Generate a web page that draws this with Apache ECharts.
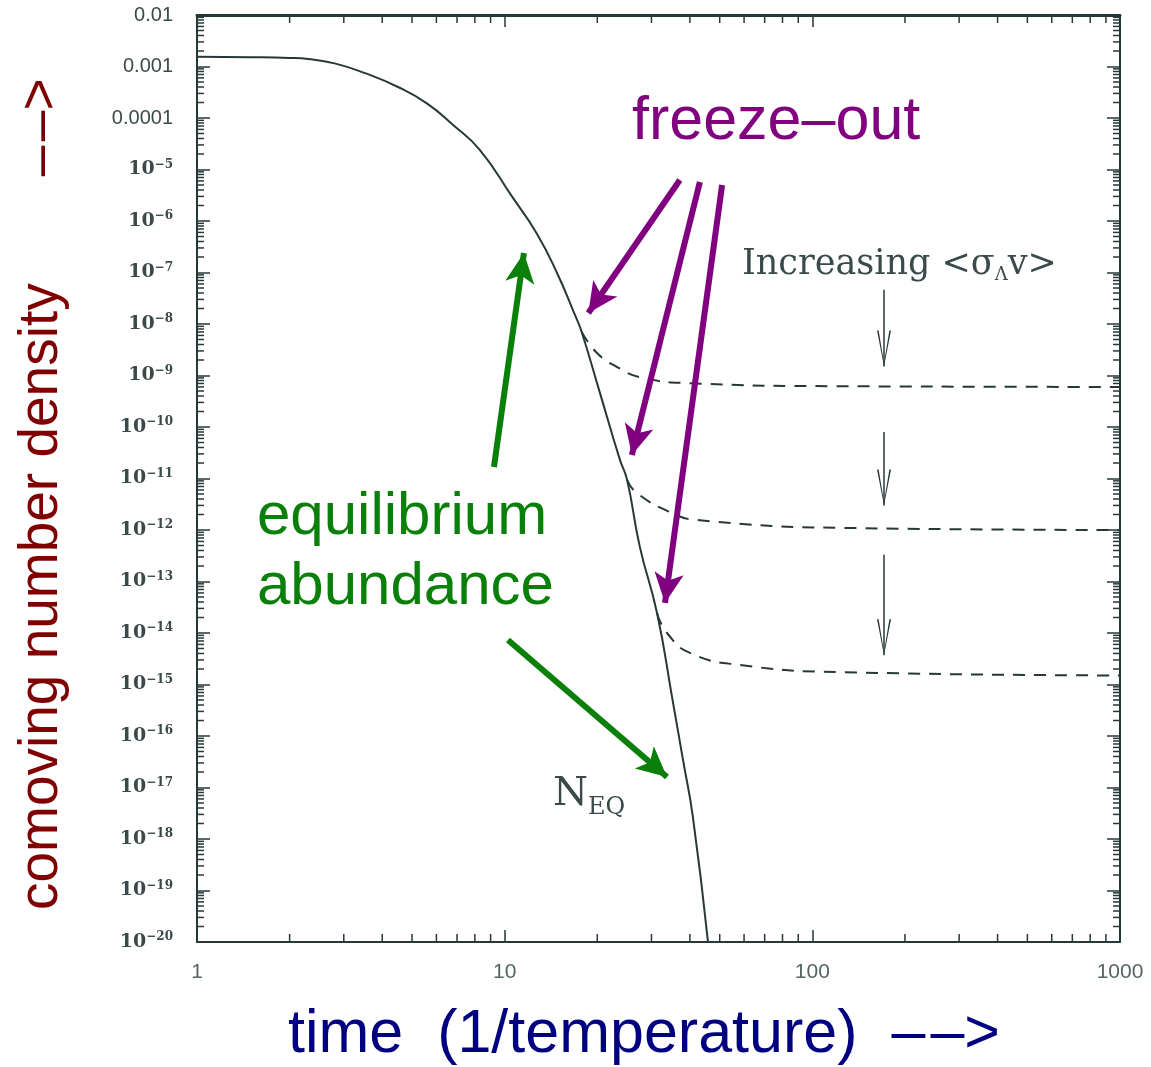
<!DOCTYPE html>
<html>
<head>
<meta charset="utf-8">
<script src="https://cdn.jsdelivr.net/npm/echarts@6/dist/echarts.min.js"></script>
<style>
  html, body { margin: 0; padding: 0; background: #fff; }
  #main { width: 1151px; height: 1067px; }
</style>
</head>
<body>
<div id="main"></div>
<script>
// equilibrium curve N_EQ
var eqCurve = [
  [1, 1.55e-3], [1.5, 1.52e-3], [2.0, 1.47e-3], [2.3, 1.4e-3], [2.8, 1.15e-3],
  [3.5, 7.5e-4], [4.5, 4.0e-4], [5.6, 1.9e-4], [6.8, 7.3e-5],
  [8.3, 2.4e-5], [10.6, 2.9e-6], [12.7, 5.8e-7], [14.8, 9.8e-8], [17.0, 1.4e-8],
  [17.8, 7e-9], [20.4, 4.6e-10], [23.7, 2.3e-11], [25, 9.4e-12], [27.5, 4.7e-13],
  [31.3, 2.4e-14], [35, 5.7e-16], [38, 3.4e-17], [40.9, 2.7e-18], [45.8, 1e-20]
];
// freeze-out branches (dashed)
var freeze1 = [[17.8, 7e-9], [20, 2.7e-9], [23.2, 1.46e-9], [27.5, 9.3e-10], [40, 7.1e-10], [120, 6.2e-10], [1000, 6.0e-10]];
var freeze2 = [[25, 9.4e-12], [26.9, 5.2e-12], [35.2, 2.1e-12], [42.2, 1.56e-12], [123, 1.1e-12], [1000, 1.0e-12]];
var freeze3 = [[31.3, 2.4e-14], [33.7, 1e-14], [40, 4.1e-15], [58, 2.4e-15], [123, 1.74e-15], [1000, 1.5e-15]];

// annotation arrows, [from, to] in data coordinates
var purpleArrows = [
  [[37.1, 6.25e-6], [18.7, 1.64e-8]],
  [[43.1, 5.7e-6], [25.9, 2.86e-11]],
  [[50.9, 5.0e-6], [33.2, 3.83e-14]]
];
var greenArrows = [
  [[9.23, 1.67e-11], [11.55, 2.39e-7]],
  [[10.25, 7.3e-15], [33.7, 1.6e-17]]
];
var blackArrows = [
  [[171, 4.6e-8], [171, 1.5e-9]],
  [[171, 8e-11], [171, 3.0e-12]],
  [[171, 3.3e-13], [171, 3.7e-15]]
];

// axis range
var xMin = 1, xMax = 1000;
var yMin = 1e-20, yMax = 0.01;

// minor ticks at 2..9 of each decade
var minorX = [];
[1, 10, 100].forEach(function (d) { for (var k = 2; k <= 9; k++) minorX.push([d * k, 1e-10]); });
var minorY = [];
for (var e = -20; e < -2; e++) { for (var k = 2; k <= 9; k++) minorY.push([10, k * Math.pow(10, e)]); }

var ink = '#263838';
var labelInk = '#3a4a4a';
var serif = '"DejaVu Serif", "Liberation Serif", serif';
var sans = '"Liberation Sans", Arial, sans-serif';

function arrowLines(list, color, width, symbol, size, offset) {
  return list.map(function (a) {
    return [
      { coord: a[0], symbol: 'none', lineStyle: { color: color, width: width, type: 'solid' } },
      { coord: a[1], symbol: symbol, symbolSize: size, symbolOffset: [0, offset] }
    ];
  });
}

// open V head for the thin black arrows
var vHead = 'path://M0,0 L-6,30 L-4.6,30 L0,3 L4.6,30 L6,30 Z';

var myChart = echarts.init(document.getElementById('main'));
myChart.setOption({
  animation: false,
  backgroundColor: '#ffffff',
  grid: { left: 197, right: 31, top: 15, bottom: 125 },
  xAxis: [{
    type: 'log', logBase: 10, min: xMin, max: xMax, interval: 1,
    axisLine: { lineStyle: { color: ink, width: 2 } },
    axisTick: { inside: true, length: 12, lineStyle: { color: ink, width: 1.5 } },
    splitLine: { show: false },
    axisLabel: { margin: 20, color: '#556565', fontSize: 21, fontFamily: sans, formatter: function (v) { return String(Math.round(v)); } }
  }, {
    type: 'log', logBase: 10, min: xMin, max: xMax, interval: 1, position: 'top',
    axisLine: { lineStyle: { color: ink, width: 3 } },
    axisTick: { inside: true, length: 12, lineStyle: { color: ink, width: 1.5 } },
    splitLine: { show: false },
    axisLabel: { show: false }
  }],
  yAxis: [{
    type: 'log', logBase: 10, min: yMin, max: yMax, interval: 1,
    axisLine: { lineStyle: { color: ink, width: 2 } },
    axisTick: { inside: true, length: 13, lineStyle: { color: ink, width: 1.5 } },
    splitLine: { show: false },
    axisLabel: {
      margin: 24, color: labelInk, fontSize: 20, fontFamily: sans,
      formatter: function (v) {
        var ex = Math.round(Math.log10(v));
        if (ex === -2) return '0.01';
        if (ex === -3) return '0.001';
        if (ex === -4) return '0.0001';
        return '{b|10}{s|\u2212' + (-ex) + '}';
      },
      rich: {
        b: { fontFamily: serif, fontSize: 19, fontWeight: 'bold', color: labelInk },
        s: { fontFamily: serif, fontSize: 12, fontWeight: 'bold', color: labelInk, padding: [0, 0, 10, 0] }
      }
    }
  }, {
    type: 'log', logBase: 10, min: yMin, max: yMax, interval: 1, position: 'right',
    axisLine: { lineStyle: { color: ink, width: 2 } },
    axisTick: { inside: true, length: 13, lineStyle: { color: ink, width: 1.5 } },
    splitLine: { show: false },
    axisLabel: { show: false }
  }],
  series: [{
    name: 'N_EQ', type: 'line', data: eqCurve, smooth: 0.5, symbol: 'none',
    lineStyle: { color: ink, width: 2 },
    markLine: {
      silent: true, animation: false,
      label: { show: false },
      emphasis: { disabled: true },
      data: []
        .concat(arrowLines(purpleArrows, '#800080', 6, 'arrow', [22, 30], 0))
        .concat(arrowLines(greenArrows, '#0a800a', 6, 'arrow', [22, 30], 0))
        .concat(arrowLines(blackArrows, ink, 1.5, vHead, [14, 36], 18))
    }
  }, {
    type: 'line', data: freeze1, smooth: 0.5, symbol: 'none',
    lineStyle: { color: ink, width: 2, type: [12, 9] }
  }, {
    type: 'line', data: freeze2, smooth: 0.5, symbol: 'none',
    lineStyle: { color: ink, width: 2, type: [12, 9] }
  }, {
    type: 'line', data: freeze3, smooth: 0.5, symbol: 'none',
    lineStyle: { color: ink, width: 2, type: [12, 9] }
  }, {
    // minor ticks on bottom and top axes
    type: 'custom', data: minorX, clip: false, silent: true,
    renderItem: function (params, api) {
      var b = api.coord([api.value(0), yMin]);
      var t = api.coord([api.value(0), yMax]);
      var st = { stroke: ink, lineWidth: 1.5 };
      return { type: 'group', children: [
        { type: 'line', shape: { x1: b[0], y1: b[1], x2: b[0], y2: b[1] - 8 }, style: st },
        { type: 'line', shape: { x1: t[0], y1: t[1], x2: t[0], y2: t[1] + 8 }, style: st }
      ] };
    }
  }, {
    // minor ticks on left and right axes
    type: 'custom', data: minorY, clip: false, silent: true,
    renderItem: function (params, api) {
      var l = api.coord([xMin, api.value(1)]);
      var r = api.coord([xMax, api.value(1)]);
      var st = { stroke: ink, lineWidth: 1.5 };
      return { type: 'group', children: [
        { type: 'line', shape: { x1: l[0], y1: l[1], x2: l[0] + 7, y2: l[1] }, style: st },
        { type: 'line', shape: { x1: r[0], y1: r[1], x2: r[0] - 7, y2: r[1] }, style: st }
      ] };
    }
  }],
  graphic: [
    { type: 'text', x: 632, y: 92, style: { text: 'freeze\u2013out', fill: '#800080', font: '61px ' + sans } },
    { type: 'text', x: 257, y: 487, style: { text: 'equilibrium', fill: '#0a800a', font: '60px ' + sans } },
    { type: 'text', x: 257, y: 557, style: { text: 'abundance', fill: '#0a800a', font: '60px ' + sans } },
    {
      type: 'text', x: 742, y: 246,
      style: {
        text: '{t|Increasing <\u03c3}{s|\u039b}{t|v>}',
        rich: {
          t: { fontFamily: serif, fontSize: 35, fill: labelInk, color: labelInk },
          s: { fontFamily: serif, fontSize: 18, fill: labelInk, color: labelInk, padding: [20, 0, 0, 0] }
        }
      }
    },
    {
      type: 'text', x: 553, y: 770,
      style: {
        text: '{n|N}{s|EQ}',
        rich: {
          n: { fontFamily: serif, fontSize: 40, fill: labelInk, color: labelInk },
          s: { fontFamily: serif, fontSize: 24, fill: labelInk, color: labelInk, padding: [26, 0, 0, 0] }
        }
      }
    },
    {
      type: 'text', x: 42, y: 910, rotation: Math.PI / 2,
      style: { text: 'comoving number density       \u2013\u200a\u2013>', fill: '#800000', font: '55px ' + sans, textAlign: 'left', textVerticalAlign: 'middle' }
    },
    {
      type: 'text', x: 288, y: 1035,
      style: { text: 'time  (1/temperature)  \u2013\u200a\u2013>', fill: '#000080', font: '61px ' + sans, textAlign: 'left', textVerticalAlign: 'middle' }
    }
  ]
});
</script>
</body>
</html>
